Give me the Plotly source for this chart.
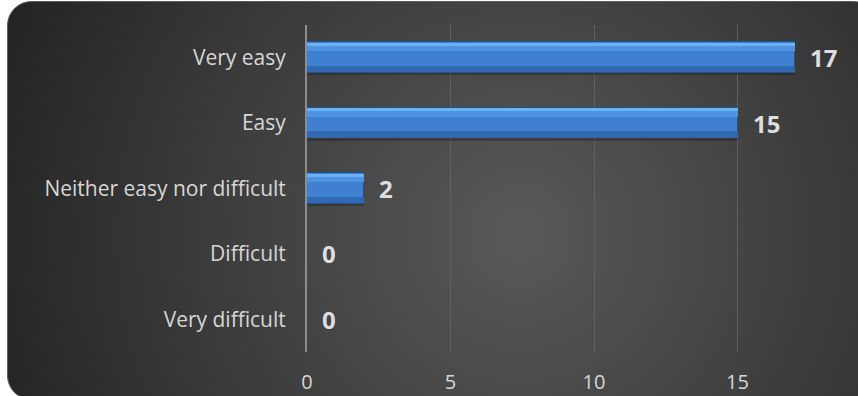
import base64
import plotly.graph_objects as go

# Survey responses: how easy was it?
categories = ["Very difficult", "Difficult", "Neither easy nor difficult", "Easy", "Very easy"]
counts = [0, 0, 2, 15, 17]
x_ticks = [0, 5, 10, 15]

W, H = 858, 396
M_L, M_R, M_T, M_B = 307, 20, 25, 44
X_MAX = 18.5
BAR_W = 0.47

FONT = "Open Sans"
LABEL_GREY = "#d6d6d6"

pos = list(range(len(categories)))

fig = go.Figure()

# soft shadow under each bar
fig.add_trace(go.Bar(
    y=pos, x=counts, orientation="h", width=0.04, offset=-BAR_W / 2 - 0.035,
    marker=dict(color="rgba(0,0,0,0.22)", line=dict(width=0)),
    hoverinfo="skip", showlegend=False,
))
# bar body with dark rim
fig.add_trace(go.Bar(
    y=pos, x=counts, orientation="h", width=BAR_W, offset=-BAR_W / 2,
    marker=dict(color="#3f80d0", line=dict(color="#22518f", width=1)),
    hoverinfo="skip", showlegend=False,
))
# lower darker band
fig.add_trace(go.Bar(
    y=pos, x=counts, orientation="h", width=0.1, offset=-BAR_W / 2 + 0.01,
    marker=dict(color="#3068b2", line=dict(width=0)),
    hoverinfo="skip", showlegend=False,
))
# upper lighter band
fig.add_trace(go.Bar(
    y=pos, x=counts, orientation="h", width=0.1, offset=BAR_W / 2 - 0.14,
    marker=dict(color="#4d93e0", line=dict(width=0)),
    hoverinfo="skip", showlegend=False,
))
# bright bevel along the top edge
fig.add_trace(go.Bar(
    y=pos, x=counts, orientation="h", width=0.045, offset=BAR_W / 2 - 0.055,
    marker=dict(color="#6cb1f4", line=dict(width=0)),
    hoverinfo="skip", showlegend=False,
))

# value labels to the right of each bar
for p, v in zip(pos, counts):
    fig.add_annotation(
        x=v, y=p, text=f"<b>{v}</b>", showarrow=False,
        xanchor="left", yanchor="middle", xshift=13,
        font=dict(family=FONT, size=24, color="#dedede"),
    )

# rounded dark panel with a radial shading, placed behind the plot
svg = f"""<svg xmlns='http://www.w3.org/2000/svg' width='{W}' height='{H}' viewBox='0 0 {W} {H}'>
<defs><radialGradient id='g' gradientUnits='userSpaceOnUse' cx='520' cy='235' r='560'>
<stop offset='0' stop-color='#595959'/><stop offset='0.55' stop-color='#3c3c3c'/><stop offset='1' stop-color='#232323'/>
</radialGradient></defs>
<rect x='7.5' y='1.5' width='870' height='398' rx='24' ry='24' fill='url(#g)' stroke='#5c5c5c' stroke-width='1'/>
</svg>"""
src = "data:image/svg+xml;base64," + base64.b64encode(svg.encode()).decode()
pw = W - M_L - M_R
ph = H - M_T - M_B
fig.add_layout_image(
    source=src, xref="paper", yref="paper",
    x=-M_L / pw, y=1 + M_T / ph, sizex=W / pw, sizey=H / ph,
    xanchor="left", yanchor="top", sizing="stretch", layer="below",
)

fig.update_layout(
    width=W, height=H,
    margin=dict(l=M_L, r=M_R, t=M_T, b=M_B, autoexpand=False),
    paper_bgcolor="white", plot_bgcolor="rgba(0,0,0,0)",
    barmode="overlay", bargap=0,
    showlegend=False,
    font=dict(family=FONT, color=LABEL_GREY),
)
fig.update_xaxes(
    range=[0, X_MAX], tickvals=x_ticks, ticktext=[str(t) for t in x_ticks],
    showgrid=True, gridcolor="#606060", gridwidth=1,
    zeroline=False, showline=False, ticks="",
    tickfont=dict(family=FONT, size=20, color=LABEL_GREY),
    ticklabelstandoff=16, fixedrange=True, automargin=False,
)
fig.update_yaxes(
    range=[-0.5, len(categories) - 0.5], tickvals=pos, ticktext=categories,
    showgrid=False, zeroline=False, showline=True, linecolor="#8c8c8c", linewidth=2,
    ticks="", tickfont=dict(family=FONT, size=21, color=LABEL_GREY),
    ticklabelstandoff=15, fixedrange=True, automargin=False,
)

fig.write_html("out.html")
